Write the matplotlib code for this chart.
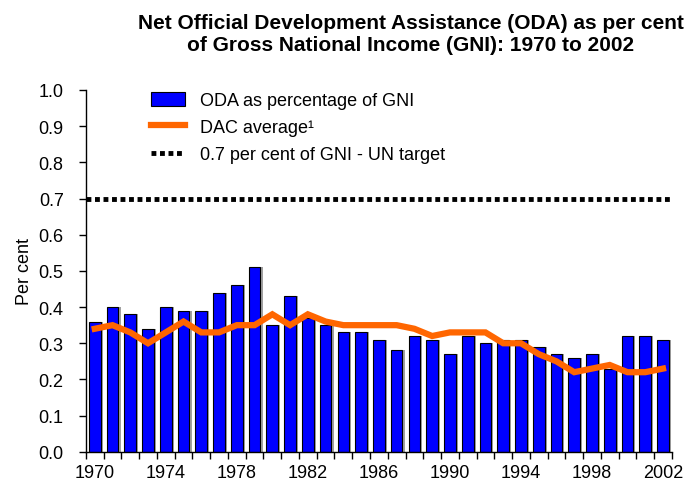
import matplotlib
matplotlib.use("Agg")
import matplotlib.pyplot as plt
import numpy as np

years = list(range(1970, 2003))
oda = [0.36, 0.40, 0.38, 0.34, 0.40, 0.39, 0.39, 0.44, 0.46, 0.51,
       0.35, 0.43, 0.37, 0.35, 0.33, 0.33, 0.31, 0.28, 0.32, 0.31,
       0.27, 0.32, 0.30, 0.31, 0.31, 0.29, 0.27, 0.26, 0.27, 0.23,
       0.32, 0.32, 0.31]
dac = [0.34, 0.35, 0.33, 0.30, 0.33, 0.36, 0.33, 0.33, 0.35, 0.35,
       0.38, 0.35, 0.38, 0.36, 0.35, 0.35, 0.35, 0.35, 0.34, 0.32,
       0.33, 0.33, 0.33, 0.30, 0.30, 0.27, 0.25, 0.22, 0.23, 0.24,
       0.22, 0.22, 0.23]
un_target = 0.7
xtick_years = list(range(1970, 2003, 4))
yticks = [0.0, 0.1, 0.2, 0.3, 0.4, 0.5, 0.6, 0.7, 0.8, 0.9, 1.0]

title = "Net Official Development Assistance (ODA) as per cent\nof Gross National Income (GNI): 1970 to 2002"
labels = ["ODA as percentage of GNI", "DAC average\u00b9", "0.7 per cent of GNI - UN target"]

plt.rcParams['font.family'] = ['Liberation Sans', 'DejaVu Sans']

fig = plt.figure(figsize=(6.87, 4.89), dpi=100)
ax = fig.add_axes([0.125, 0.074, 0.853, 0.740])

# shadow behind bars
ax.bar(np.array(years) + 0.12, oda, width=0.66, color='#A0A0A0', linewidth=0,
       zorder=1)
hb = ax.bar(years, oda, width=0.66, color='#0000FF', edgecolor='black',
            linewidth=0.8, zorder=2)
hl, = ax.plot(years, dac, color='#FF6600', linewidth=4.5, zorder=3,
              solid_joinstyle='miter')
ht = ax.axhline(un_target, color='black', linewidth=3.5,
                linestyle=(0, (1, 0.75)), zorder=3)

ax.set_xlim(1969.5, 2002.5)
ax.set_ylim(0, 1.0)
ax.set_yticks(yticks)
ax.set_yticklabels([f"{v:.1f}" for v in yticks])
ax.set_xticks(xtick_years)
ax.set_xticklabels([str(y) for y in xtick_years])
ax.tick_params(axis='x', length=0, pad=9, labelsize=13)
ax.set_xticks(np.arange(1969.5, 2003.0, 1.0), minor=True)
ax.tick_params(axis='x', which='minor', length=5, direction='out', width=1)
ax.tick_params(axis='y', length=5, direction='out', width=1, labelsize=13,
               pad=11)

for s in ['top', 'right']:
    ax.spines[s].set_visible(False)
ax.spines['left'].set_linewidth(1)
ax.spines['bottom'].set_linewidth(1)

ax.set_ylabel("Per cent", fontsize=13, labelpad=4)

fig.text(0.598, 0.972, title, ha='center', va='top', fontsize=15,
         fontweight='bold', linespacing=1.2)

leg = ax.legend([hb, hl, ht], labels, loc='upper left',
                bbox_to_anchor=(0.083, 1.04), frameon=False,
                fontsize=13, handlelength=1.9, handleheight=0.8,
                labelspacing=0.55, handletextpad=0.8)

fig.savefig("out.png", dpi=100)
